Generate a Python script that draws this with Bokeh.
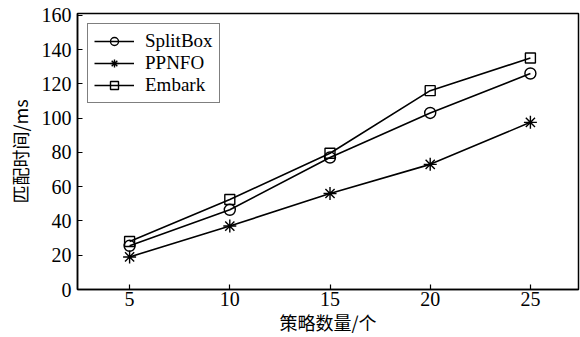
from bokeh.plotting import figure
from bokeh.models import Range1d, FixedTicker, Legend, LegendItem
from bokeh.embed import file_html
from bokeh.resources import INLINE

x_vals = [5, 10, 15, 20, 25]
splitbox = [25.5, 46.5, 77, 103, 126]
ppnfo = [19, 37, 56, 73, 97.5]
embark = [28, 52.5, 79.5, 116, 135]
y_ticks = [0, 20, 40, 60, 80, 100, 120, 140, 160]
x_label = "策略数量/个"
y_label = "匹配时间/ms"

p = figure(width=580, height=337, output_backend="svg", toolbar_location=None,
           x_range=Range1d(2.4, 27.4), y_range=Range1d(0, 161))
p.min_border_left = 77
p.min_border_right = 2
p.min_border_top = 13
p.min_border_bottom = 46
p.background_fill_color = "white"
p.border_fill_color = "white"
p.outline_line_color = "black"
p.outline_line_width = 1.5
p.grid.visible = False

for ax in (p.xaxis, p.yaxis):
    ax.axis_line_color = "black"
    ax.axis_line_width = 1.5
    ax.major_tick_in = 5
    ax.major_tick_out = 0
    ax.minor_tick_in = 0
    ax.minor_tick_out = 0
    ax.major_tick_line_color = "black"
    ax.major_tick_line_width = 1.2
    ax.major_label_text_font = "Liberation Serif"
    ax.major_label_text_font_size = "20px"
    ax.major_label_text_color = "black"
    ax.axis_label_text_font = "Noto Sans CJK SC"
    ax.axis_label_text_font_size = "18px"
    ax.axis_label_text_font_style = "normal"
    ax.axis_label_text_color = "black"

p.xaxis.ticker = FixedTicker(ticks=x_vals)
p.yaxis.ticker = FixedTicker(ticks=y_ticks)
p.xaxis.axis_label = x_label
p.yaxis.axis_label = y_label
p.xaxis.major_label_standoff = 2
p.xaxis.axis_label_standoff = 0
p.yaxis.major_label_standoff = 6
p.yaxis.axis_label_standoff = 6

items = []
series = [("SplitBox", splitbox, "circle", 11), ("PPNFO", ppnfo, "asterisk", 13), ("Embark", embark, "square", 10)]
for name, ys, marker, sz in series:
    l = p.line(x_vals, ys, line_color="black", line_width=1.6)
    s = p.scatter(x_vals, ys, marker=marker, size=sz, fill_color=None, line_color="black", line_width=1.4)
    items.append(LegendItem(label=name, renderers=[l, s]))

legend = Legend(items=items, location="top_left")
legend.glyph_width = 40
legend.glyph_height = 20
legend.label_text_font = "Liberation Serif"
legend.label_text_font_size = "19px"
legend.label_text_color = "black"
legend.label_standoff = 11
legend.label_height = 20
legend.spacing = 0
legend.padding = 6
legend.margin = 10
legend.border_line_color = "black"
legend.border_line_width = 1.5
legend.background_fill_alpha = 1
p.add_layout(legend)

open("out.html", "w").write(file_html(p, INLINE))
